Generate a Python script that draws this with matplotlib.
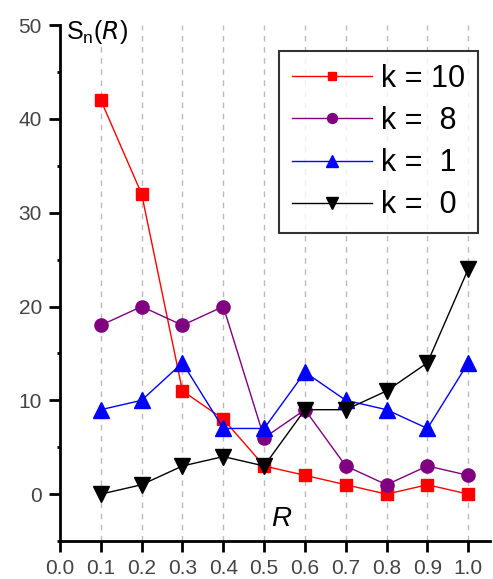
import numpy as np
import matplotlib
matplotlib.use("Agg")
import matplotlib.pyplot as plt
from matplotlib.ticker import MultipleLocator

# data
r = [0.1, 0.2, 0.3, 0.4, 0.5, 0.6, 0.7, 0.8, 0.9, 1.0]
k10 = [42, 32, 11, 8, 3, 2, 1, 0, 1, 0]
k8 = [18, 20, 18, 20, 6, 9, 3, 1, 3, 2]
k1 = [9, 10, 14, 7, 7, 13, 10, 9, 7, 14]
k0 = [0, 1, 3, 4, 3, 9, 9, 11, 14, 24]
xticks = [0.0, 0.1, 0.2, 0.3, 0.4, 0.5, 0.6, 0.7, 0.8, 0.9, 1.0]

plt.rcParams['font.family'] = ['Liberation Sans', 'DejaVu Sans']

fig = plt.figure(figsize=(4.93, 5.79), dpi=100)
ax = fig.add_axes([0.1217, 0.0656, 0.872, 0.891])

# vertical dashed grid
for x in r:
    ax.axvline(x, color='#bbbbbb', linestyle=(0, (4, 4)), linewidth=1, zorder=0)

ax.plot(r, k10, color='red', marker='s', markersize=8.5, linewidth=1, label='k = 10')
ax.plot(r, k8, color='#800080', marker='o', markersize=9.5, linewidth=1, label='k =  8')
ax.plot(r, k1, color='blue', marker='^', markersize=11, linewidth=1, label='k =  1')
ax.plot(r, k0, color='black', marker='v', markersize=11, linewidth=1, label='k =  0')

ax.set_xlim(0.0, 1.053)
ax.set_ylim(-5, 50)
ax.set_xticks(xticks)
ax.set_xticklabels([f"{v:.1f}" for v in xticks])
ax.set_yticks([0, 10, 20, 30, 40, 50])
ax.yaxis.set_minor_locator(MultipleLocator(5))

for s in ['top', 'right']:
    ax.spines[s].set_visible(False)
for s in ['left', 'bottom']:
    ax.spines[s].set_linewidth(2)

ax.tick_params(axis='both', which='major', direction='out', length=8, width=2,
               labelsize=15, labelcolor='#444444')
ax.tick_params(axis='x', pad=5)
ax.tick_params(axis='y', pad=5)
ax.tick_params(axis='y', which='minor', direction='out', length=2.5, width=2)

ax.text(0.015, 50.8, r'S$_\mathregular{n}$($\mathit{R}$)', fontsize=18, va='top', ha='left',
        bbox=dict(facecolor='white', edgecolor='none', pad=1))
ax.text(0.542, -2.6, 'R', fontsize=20, style='italic', ha='center', va='center')

leg = ax.legend(loc='upper right', bbox_to_anchor=(0.972, 0.950), borderaxespad=0,
                fontsize=22, frameon=True, fancybox=False, edgecolor='black',
                handlelength=2.6, borderpad=0.42, labelspacing=0.4,
                handletextpad=0.3, markerscale=0.75)
leg.get_frame().set_linewidth(1.5)

fig.savefig('out.png', dpi=100)
